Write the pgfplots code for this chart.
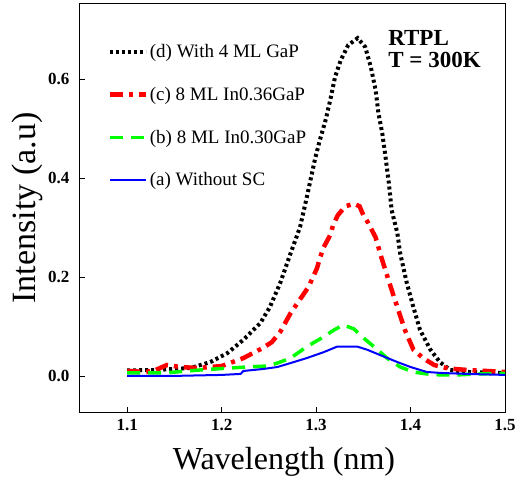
\documentclass[border=0pt]{standalone}
\usepackage{fontspec}
\setmainfont{Liberation Serif}
\usepackage{pgfplots}
\pgfplotsset{compat=1.18}

\begin{document}
\begin{tikzpicture}
  \begin{axis}[
    width=425pt, height=408pt,
    scale only axis,
    xmin=1.05, xmax=1.5,
    ymin=-0.073, ymax=0.752,
    xtick={1.1,1.2,1.3,1.4,1.5},
    ytick={0,0.2,0.4,0.6},
    xticklabels={1.1,1.2,1.3,1.4,1.5},
    yticklabels={0.0,0.2,0.4,0.6},
    tick align=inside,
    xtick pos=bottom, ytick pos=left,
    major tick length=5pt,
    tick style={black, line width=0.8pt},
    axis line style={line width=1pt},
    /pgf/number format/assume math mode=true,
    ticklabel style={font=\bfseries\fontsize{17}{17}\selectfont},
    yticklabel style={xshift=-7pt},
    xticklabel style={yshift=-4pt},
    xlabel={Wavelength (nm)},
    ylabel={Intensity (a.u)},
    every axis x label/.style={at={(axis description cs:0.48,-0.1225)}, anchor=center, inner sep=0pt, font=\fontsize{32}{32}\selectfont},
    every axis y label/.style={at={(axis description cs:-0.1247,0.5)}, rotate=90, anchor=center, inner sep=0pt, font=\fontsize{34}{34}\selectfont},
    legend style={draw=none, fill=none, at={(rel axis cs:0.064,0.906)}, anchor=north west,
      font=\fontsize{19}{19}\selectfont, row sep=24pt, inner sep=0pt,
      nodes={inner sep=2pt}},
    legend cell align=left,
    legend image code/.code={\draw[#1] (0pt,0pt) -- (36pt,0pt);},
  ]

  % (d) black dotted
  \addplot[black, line width=4pt, dash pattern=on 3pt off 3pt] coordinates {
    (1.100,0.011) (1.130,0.012) (1.150,0.014) (1.167,0.016) (1.188,0.028)
    (1.206,0.046) (1.223,0.073) (1.241,0.107) (1.251,0.139) (1.262,0.188)
    (1.273,0.248) (1.283,0.301) (1.290,0.360) (1.299,0.440) (1.304,0.477)
    (1.310,0.517) (1.315,0.558) (1.320,0.604) (1.326,0.638) (1.334,0.669)
    (1.344,0.683) (1.352,0.665) (1.358,0.624) (1.363,0.578) (1.366,0.531)
    (1.370,0.491) (1.373,0.450) (1.377,0.390) (1.380,0.335) (1.386,0.289)
    (1.389,0.248) (1.396,0.188) (1.403,0.139) (1.410,0.093) (1.421,0.053)
    (1.431,0.028) (1.442,0.012) (1.460,0.008) (1.480,0.007) (1.500,0.006)
  };
  \addlegendentry{(d) With 4 ML GaP}

  % (c) red dash-dot
  \addplot[red, line width=4.5pt, dash pattern=on 13pt off 6pt on 4pt off 6pt] coordinates {
    (1.100,0.010) (1.120,0.008) (1.130,0.012) (1.142,0.022) (1.156,0.018)
    (1.175,0.016) (1.200,0.020) (1.223,0.036) (1.242,0.055) (1.253,0.068)
    (1.262,0.089) (1.273,0.127) (1.292,0.180) (1.301,0.218) (1.304,0.238)
    (1.308,0.260) (1.315,0.285) (1.318,0.305) (1.323,0.325) (1.331,0.343)
    (1.340,0.348) (1.346,0.343) (1.350,0.325) (1.355,0.310) (1.363,0.280)
    (1.366,0.260) (1.370,0.234) (1.380,0.174) (1.386,0.139) (1.394,0.093)
    (1.403,0.053) (1.414,0.035) (1.425,0.022) (1.440,0.015) (1.460,0.012)
    (1.480,0.010) (1.500,0.008)
  };
  \addlegendentry{(c) 8 ML In0.36GaP}

  % (b) green dashed
  \addplot[green, line width=3.5pt, dash pattern=on 13pt off 8pt] coordinates {
    (1.100,0.006) (1.140,0.006) (1.177,0.012) (1.209,0.016) (1.227,0.018)
    (1.248,0.020) (1.259,0.026) (1.273,0.036) (1.290,0.059) (1.308,0.079)
    (1.319,0.093) (1.329,0.103) (1.340,0.095) (1.350,0.077) (1.365,0.053)
    (1.375,0.036) (1.389,0.018) (1.403,0.008) (1.417,0.004) (1.431,0.002)
    (1.450,0.002) (1.470,0.004) (1.500,0.005)
  };
  \addlegendentry{(b) 8 ML In0.30GaP}

  % (a) blue solid
  \addplot[blue, line width=2pt] coordinates {
    (1.100,0.000) (1.150,0.000) (1.200,0.002) (1.220,0.004) (1.223,0.010)
    (1.244,0.014) (1.259,0.018) (1.273,0.026) (1.290,0.036) (1.308,0.048)
    (1.322,0.059) (1.344,0.059) (1.354,0.053) (1.368,0.042) (1.386,0.028)
    (1.400,0.018) (1.417,0.008) (1.432,0.006) (1.460,0.004) (1.500,0.002)
  };
  \addlegendentry{(a) Without SC}

  \node[anchor=north west, align=left, inner sep=0pt,
        font=\bfseries\fontsize{23}{22}\selectfont]
    at (rel axis cs:0.725,0.935) {RTPL\\T = 300K};

  \coordinate (ll) at (rel axis cs:0,0);
  \coordinate (ur) at (rel axis cs:1,1);
  \end{axis}
  \pgfresetboundingbox
  \path[use as bounding box] ([shift={(-80pt,-71pt)}]ll) rectangle ([shift={(11pt,4pt)}]ur);
\end{tikzpicture}
\end{document}
